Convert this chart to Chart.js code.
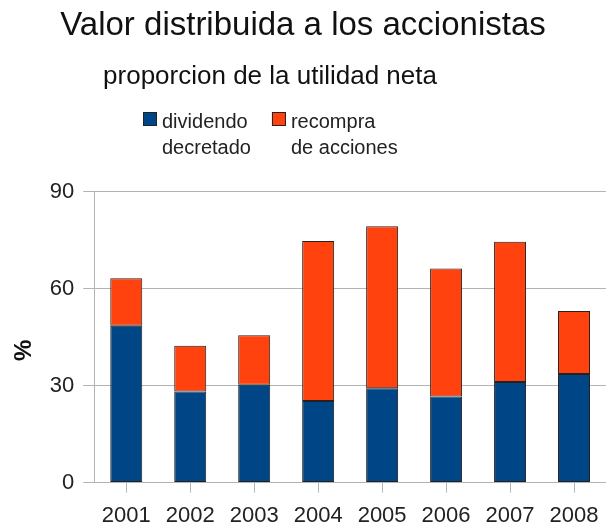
<!DOCTYPE html>
<html lang="es">
<head>
    <meta charset="UTF-8">
    <title>Valor distribuida a los accionistas</title>
    <script src="https://cdn.jsdelivr.net/npm/chart.js"></script>
    <style>
        html, body { margin: 0; padding: 0; background: #fff; }
        #wrap { width: 606px; height: 526px; }
    </style>
</head>
<body>
    <div id="wrap"><canvas id="chart"></canvas></div>

    <script>
        const years = ['2001', '2002', '2003', '2004', '2005', '2006', '2007', '2008'];
        const dividendo = [48.5, 28.2, 30.3, 25.2, 29.2, 26.6, 31.1, 33.6];
        const recompra = [14.7, 14.1, 15.3, 49.5, 50.1, 39.6, 43.4, 19.5];
        const yTicks = [0, 30, 60, 90];

        const font = 'Liberation Sans, Arial, sans-serif';
        const subtitleText = 'proporcion de la utilidad neta';

        // subtitle (sits left of centre in the original) and a legend with
        // two-line labels, both drawn by hand
        const headerBits = {
            id: 'headerBits',
            afterDraw(chart) {
                const c = chart.ctx;
                c.save();
                c.fillStyle = '#111';
                c.font = '26px ' + font;
                c.textAlign = 'center';
                c.textBaseline = 'middle';
                c.fillText(subtitleText, 270, 77);

                c.font = '20px ' + font;
                c.textBaseline = 'alphabetic';
                c.textAlign = 'left';
                let x = 143;
                const top = 112;
                chart.data.datasets.forEach(ds => {
                    c.fillStyle = ds.backgroundColor;
                    c.fillRect(x, top, 14, 14);
                    c.strokeStyle = '#222';
                    c.lineWidth = 1;
                    c.strokeRect(x + 0.5, top + 0.5, 13, 13);
                    c.fillStyle = '#222';
                    let w = 0;
                    ds.label.forEach((line, i) => {
                        c.fillText(line, x + 19, top + 16 + i * 25.5);
                        w = Math.max(w, c.measureText(line).width);
                    });
                    x += 19 + w + 21;
                });
                c.restore();
            }
        };

        const ctx = document.getElementById('chart').getContext('2d');
        new Chart(ctx, {
            type: 'bar',
            data: {
                labels: years,
                datasets: [{
                    label: ['dividendo', 'decretado'],
                    data: dividendo,
                    backgroundColor: '#004586',
                    borderColor: '#222',
                    borderWidth: 1,
                    borderSkipped: false
                }, {
                    label: ['recompra', 'de acciones'],
                    data: recompra,
                    backgroundColor: '#ff420e',
                    borderColor: '#222',
                    borderWidth: 1,
                    borderSkipped: false
                }]
            },
            options: {
                responsive: true,
                maintainAspectRatio: false,
                animation: false,
                layout: { padding: { left: 0, right: 0, top: 6, bottom: -13 } },
                datasets: { bar: { barPercentage: 0.5, categoryPercentage: 1 } },
                scales: {
                    x: {
                        stacked: true,
                        offset: true,
                        afterFit: (scale) => { scale.paddingRight = 0; },
                        grid: { offset: false, drawOnChartArea: false, color: '#b3b3b3', tickLength: 10 },
                        border: { color: '#b3b3b3' },
                        ticks: { color: '#222', font: { family: font, size: 22 }, padding: 10, maxRotation: 0 }
                    },
                    y: {
                        stacked: true,
                        min: 0,
                        max: 90,
                        afterBuildTicks: (axis) => { axis.ticks = yTicks.map(v => ({ value: v })); },
                        grid: { color: '#b3b3b3', tickLength: 11 },
                        border: { color: '#b3b3b3' },
                        ticks: { color: '#222', font: { family: font, size: 22 }, padding: 9 },
                        title: { display: true, text: '%    ', color: '#111', font: { family: font, size: 24, weight: 'bold' }, padding: { top: 10, bottom: 2 } }
                    }
                },
                plugins: {
                    title: {
                        display: true,
                        text: 'Valor distribuida a los accionistas',
                        color: '#111',
                        font: { family: font, size: 33, weight: 'normal' },
                        padding: { top: 0, bottom: 146 }
                    },
                    legend: { display: false },
                    tooltip: { enabled: false }
                }
            },
            plugins: [headerBits]
        });
    </script>
</body>
</html>
